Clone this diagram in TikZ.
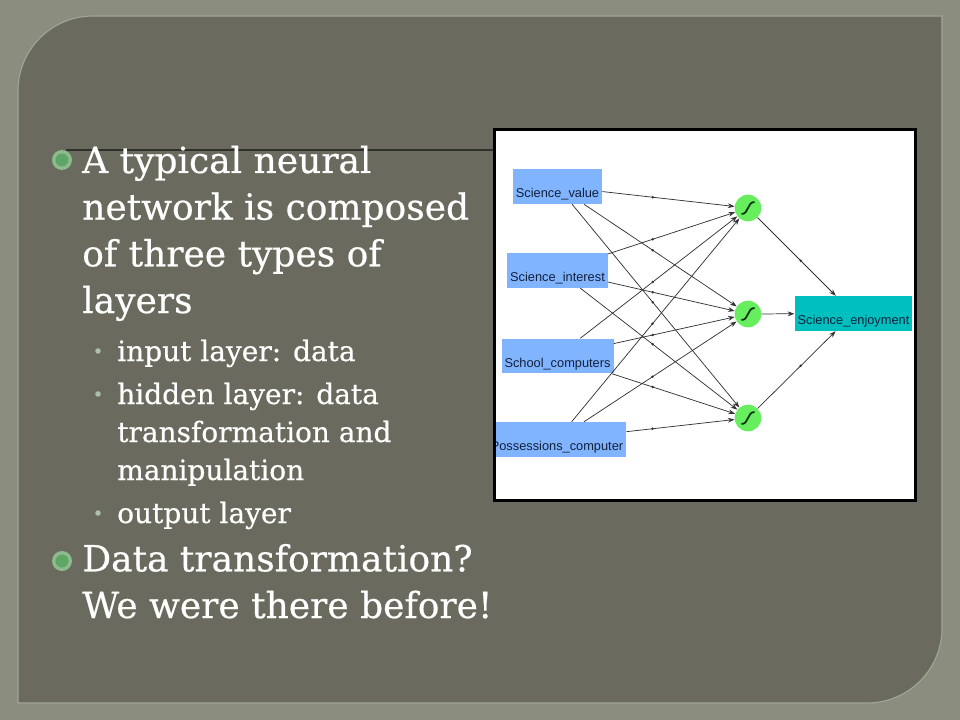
\documentclass[tikz,border=0pt]{standalone}
\usepackage{fontspec}
\setmainfont{DejaVu Serif}[FakeBold=0.5]
\newfontfamily\netfont{Liberation Sans}
\usepackage{tikz}
\usetikzlibrary{calc,arrows.meta,positioning}
\definecolor{slidebg}{HTML}{8B8E7F}
\definecolor{panelbg}{HTML}{6A6B5E}
\definecolor{panelrim}{HTML}{A3A697}
\definecolor{ringout}{HTML}{8DBB8D}
\definecolor{ringin}{HTML}{5FA565}
\definecolor{subdot}{HTML}{A9C1A9}
\definecolor{inblue}{HTML}{80B4FF}
\definecolor{outteal}{HTML}{00BFBF}
\definecolor{hidgreen}{HTML}{66EE5E}
\definecolor{labelink}{HTML}{13203A}

\begin{document}
\begin{tikzpicture}[x=0.75pt,y=-0.75pt,
        inbox/.style={fill=inblue,inner xsep=2.25pt,inner ysep=0pt,text height=21.5pt,text depth=4.7pt,
            font=\netfont\fontsize{9.6}{11}\selectfont,text=labelink},
        outbox/.style={inbox,fill=outteal},
        neuron/.style={circle,fill=hidgreen,minimum size=20pt,inner sep=0pt},
        link/.style={draw=black!80,line width=0.55pt,-{Stealth[length=5pt,width=3.6pt]}},
        sigm/.style={draw=black!70!green!60!black,line width=1.3pt},
        bigtext/.style={anchor=base west,inner sep=0pt,align=left,text=white,font=\fontsize{27}{35}\selectfont},
        smalltext/.style={anchor=base west,inner sep=0pt,align=left,text=white,font=\fontsize{21}{28.5}\selectfont}]
            \useasboundingbox (0,0) rectangle (960,720);
            \fill[slidebg] (0,0) rectangle (960,720);
            \filldraw[fill=panelbg,draw=panelrim,line width=0.8pt] (18,703) -- (18,91) arc[start angle=180,end angle=270,radius=75]
                -- (942,16) -- (942,628) arc[start angle=0,end angle=90,radius=75] -- cycle;
            \draw[draw=black!55!panelbg,line width=0.9pt] (66,150) -- (493,150);

            \foreach \y in {160,561} {
                \fill[ringout] (62,\y) circle (10);
                \fill[ringin] (62,\y) circle (6.5);
            }
            \foreach \y in {351,394,513}
                \fill[subdot] (98,\y) circle (2.8);
            \node[bigtext] (typ) at (82,313) {A typical neural\\network is composed\\of three types of\\layers};
            \node[smalltext] (inl) at (117,361) {input layer: data};
            \node[smalltext] (hidl) at (117,480) {hidden layer: data\\transformation and\\manipulation};
            \node[smalltext] (outl) at (117,523) {output layer};
            \node[bigtext] (trans) at (82,618) {Data transformation?\\We were there before!};

            \fill[white] (493,128) rectangle (917,502);
            \begin{scope}
                \clip (495,130) rectangle (915,500);
                \node[inbox] (sv) at (557.5,186.5) {Science\_value};
                \node[inbox] (si) at (557.5,270.5) {Science\_interest};
                \node[inbox] (sc) at (557.5,356) {School\_computers};
                \node[inbox] (pc) at (557,439.5) {Possessions\_computer};
                \node[neuron] (h1) at (748,208) {};
                \node[neuron] (h2) at (748,314) {};
                \node[neuron] (h3) at (748,418) {};
                \node[outbox] (se) at (853.5,313.5) {Science\_enjoyment};
                \foreach \a in {sv,si,sc,pc}
                    \foreach \b in {h1,h2,h3} {
                        \draw[link] (\a) -- (\b);
                        \fill[black!80] ($(\a)!0.5!(\b)$) circle (1.4);
                    }
                \foreach \b in {h1,h2,h3} {
                    \draw[link] (\b) -- (se);
                    \draw[sigm] ($(\b)+(-6.5,6)$) .. controls ($(\b)+(1,6)$) and ($(\b)+(-1,-6)$) .. ($(\b)+(6.5,-6)$);
                }
                \foreach \b in {h1,h3}
                    \fill[black!80] ($(\b)!0.5!(se)$) circle (1.4);
            \end{scope}
            \draw[black,line width=2.2pt] (494.5,129.5) rectangle (915.5,500.5);
        \end{tikzpicture}
\end{document}
